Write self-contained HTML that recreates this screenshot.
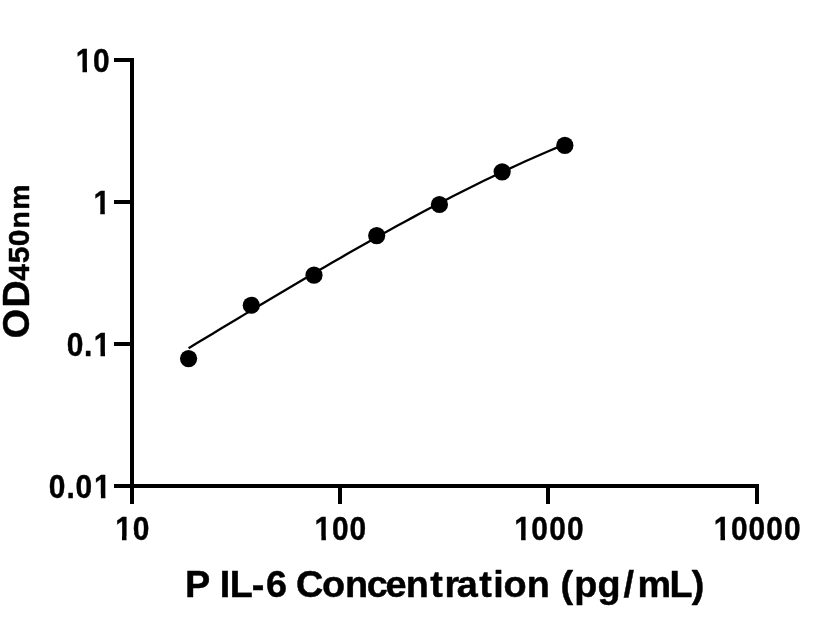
<!DOCTYPE html>
<html lang="en">
<head>
<meta charset="utf-8">
<title>P IL-6 standard curve</title>
<style>
html,body{margin:0;padding:0;background:#fff;}
body{width:816px;height:640px;overflow:hidden;}
svg{display:block;}
text{font-family:"Liberation Sans",sans-serif;font-weight:bold;fill:#000;}
.tick{font-size:33.6px;stroke:#000;stroke-width:0.4px;stroke-linejoin:round;}
.title{font-size:37.8px;stroke:#000;stroke-width:0.45px;stroke-linejoin:round;}
.ylab{font-size:37.6px;stroke:#000;stroke-width:0.45px;stroke-linejoin:round;}
.sub{font-size:30.0px;}
.nm{font-size:28.3px;}
</style>
</head>
<body>
<svg width="816" height="640" viewBox="0 0 816 640">
<rect width="816" height="640" fill="#ffffff"/>
<g fill="#000" shape-rendering="crispEdges">
<rect x="130" y="58" width="4" height="446"/>
<rect x="114" y="484" width="645" height="4"/>
<rect x="114" y="58" width="18" height="4"/>
<rect x="114" y="200" width="18" height="4"/>
<rect x="114" y="342" width="18" height="4"/>
<rect x="338" y="486" width="4" height="18"/>
<rect x="546" y="486" width="4" height="18"/>
<rect x="755" y="486" width="4" height="18"/>
</g>
<path d="M188.60,348.17 L196.61,343.34 L204.61,338.51 L212.62,333.67 L220.63,328.84 L228.63,324.02 L236.64,319.20 L244.64,314.38 L252.65,309.57 L260.66,304.77 L268.66,299.99 L276.67,295.21 L284.68,290.45 L292.68,285.70 L300.69,280.97 L308.70,276.26 L316.70,271.57 L324.71,266.90 L332.71,262.25 L340.72,257.63 L348.73,253.03 L356.73,248.46 L364.74,243.92 L372.75,239.41 L380.75,234.93 L388.76,230.49 L396.77,226.08 L404.77,221.71 L412.78,217.37 L420.79,213.07 L428.79,208.82 L436.80,204.61 L444.80,200.44 L452.81,196.32 L460.82,192.24 L468.82,188.22 L476.83,184.24 L484.84,180.32 L492.84,176.45 L500.85,172.63 L508.86,168.87 L516.86,165.17 L524.87,161.53 L532.87,157.95 L540.88,154.43 L548.89,150.97 L556.89,147.58 L564.90,144.26" fill="none" stroke="#000" stroke-width="2.3" stroke-linecap="butt" stroke-linejoin="round"/>
<g fill="#000">
<circle cx="188.58" cy="358.60" r="8.6"/>
<circle cx="251.29" cy="305.25" r="8.6"/>
<circle cx="314.00" cy="275.15" r="8.6"/>
<circle cx="376.72" cy="235.60" r="8.6"/>
<circle cx="439.43" cy="204.50" r="8.6"/>
<circle cx="502.15" cy="171.80" r="8.6"/>
<circle cx="564.86" cy="145.30" r="8.6"/>
</g>
<defs>
<clipPath id="c1" clipPathUnits="userSpaceOnUse"><path d="M6,31H183V68H6Z M82.52,68H86.98V83H82.52Z M93.02,68H183V83H93.02Z M6,68H76.00V83H6Z"/></clipPath>
<clipPath id="c2" clipPathUnits="userSpaceOnUse"><path d="M23,173H200V210H23Z M100.32,210H104.78V225H100.32Z M110.82,210H200V225H110.82Z M23,210H93.80V225H23Z"/></clipPath>
<clipPath id="c3" clipPathUnits="userSpaceOnUse"><path d="M24,315H201V352H24Z M100.52,352H104.98V367H100.52Z M111.02,352H201V367H111.02Z M24,352H94.00V367H24Z"/></clipPath>
<clipPath id="c4" clipPathUnits="userSpaceOnUse"><path d="M24,457H201V494H24Z M100.92,494H105.38V509H100.92Z M111.42,494H201V509H111.42Z M24,494H94.40V509H24Z"/></clipPath>
<clipPath id="c5" clipPathUnits="userSpaceOnUse"><path d="M45,500H222V536H45Z M122.02,536H126.48V552H122.02Z M132.52,536H222V552H132.52Z M45,536H115.50V552H45Z"/></clipPath>
<clipPath id="c6" clipPathUnits="userSpaceOnUse"><path d="M244,500H421V536H244Z M321.42,536H325.88V552H321.42Z M331.92,536H421V552H331.92Z M244,536H314.90V552H244Z"/></clipPath>
<clipPath id="c7" clipPathUnits="userSpaceOnUse"><path d="M444,500H621V536H444Z M521.12,536H525.58V552H521.12Z M531.62,536H621V552H531.62Z M444,536H514.60V552H444Z"/></clipPath>
<clipPath id="c8" clipPathUnits="userSpaceOnUse"><path d="M644,500H821V536H644Z M720.52,536H724.98V552H720.52Z M731.02,536H821V552H731.02Z M644,536H714.00V552H644Z"/></clipPath>
</defs>
<g class="tick">
<g clip-path="url(#c1)"><text transform="scale(0.89,1)" x="85.08 104.56" y="71.8">10</text></g>
<g clip-path="url(#c2)"><text transform="scale(0.89,1)" x="105.08" y="213.7">1</text></g>
<g clip-path="url(#c3)"><text transform="scale(0.89,1)" x="75.01 94.45 105.30" y="355.8">0.1</text></g>
<g clip-path="url(#c4)"><text transform="scale(0.89,1)" x="54.89 74.67 84.78 105.75" y="497.9">0.01</text></g>
<g clip-path="url(#c5)"><text transform="scale(0.89,1)" x="129.46 149.28" y="540.45">10</text></g>
<g clip-path="url(#c6)"><text transform="scale(0.89,1)" x="353.50 372.98 392.76" y="540.45">100</text></g>
<g clip-path="url(#c7)"><text transform="scale(0.89,1)" x="577.88 597.03 617.03 637.14" y="540.45">1000</text></g>
<g clip-path="url(#c8)"><text transform="scale(0.89,1)" x="801.93 821.24 841.07 861.07 880.99" y="540.45">10000</text></g>
</g>
<text class="title" x="184.98 210.19 219.80 229.77 251.82 265.98 287.00 295.94 322.06 344.93 366.65 385.50 405.83 430.21 444.49 456.87 479.36 493.32 503.51 526.63 549.72 560.58 574.23 597.59 623.45 637.52 669.52 691.83" y="596.9">P IL-6 Concentration (pg/mL)</text>
<text class="ylab" transform="translate(28.55,337) rotate(-90)" x="-1.20 29.56" y="0">OD<tspan class="sub" x="56.31 73.76 90.88">450</tspan><tspan class="nm" x="108.55 127.16">nm</tspan></text>
</svg>
</body>
</html>
